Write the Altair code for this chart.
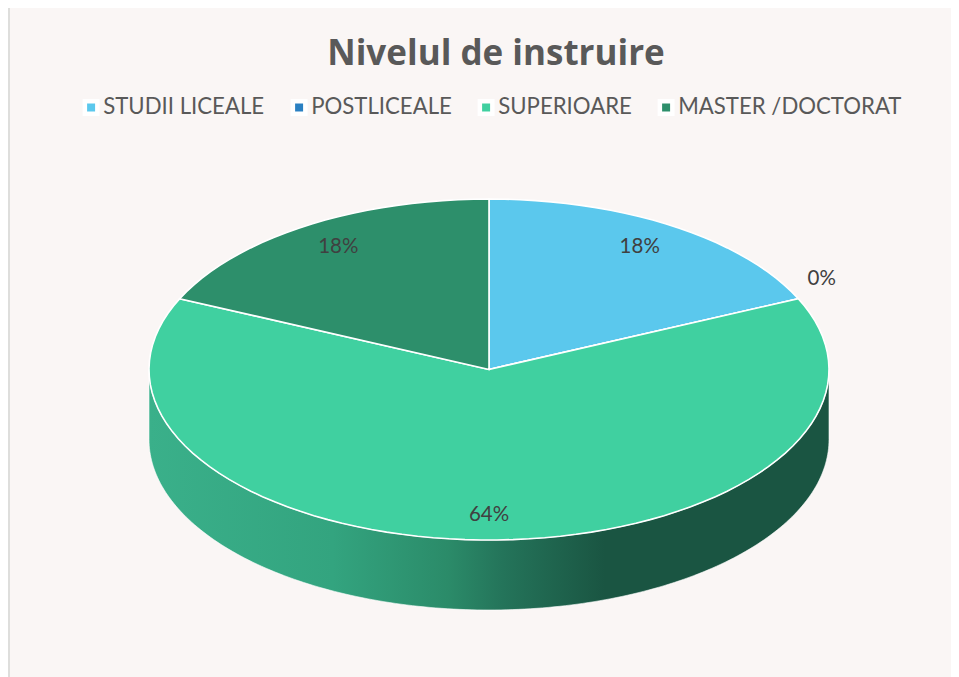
import numpy as np
import pandas as pd
import altair as alt

categories = ["STUDII LICEALE", "POSTLICEALE", "SUPERIOARE", "MASTER /DOCTORAT"]
shares = [2, 0, 7, 2]
labels = ["18%", "0%", "64%", "18%"]
colors = ["#5BC8ED", "#2A80C2", "#40D0A0", "#2D8F6B"]

W, H, TOP = 943, 601, 68
CX, CY, RX, RY, DEPTH = 481, 293.5, 340, 170.5, 70
x_dom = [-CX / RX, (W - CX) / RX]
y_dom = [-(H - CY) / RY, CY / RY]
wall_v = DEPTH / RY

rows, text_rows = [], []
cum = 0
for cat, s, lab in zip(categories, shares, labels):
    a0 = cum / sum(shares) * 2 * np.pi
    a1 = (cum + s) / sum(shares) * 2 * np.pi
    cum += s
    n = s * 12 + 2
    rows.append({"cat": cat, "pt": 0, "u": 0.0, "v": 0.0})
    for i, a in enumerate(np.linspace(a0, a1, n)):
        rows.append({"cat": cat, "pt": i + 1, "u": np.sin(a), "v": np.cos(a)})
    mid = (a0 + a1) / 2
    ru, rv = (0.82, 0.855) if s > 0 else (1.076, 1.28)
    text_rows.append({"u": ru * np.sin(mid), "v": rv * np.cos(mid), "t": lab})

slices = pd.DataFrame(rows)
texts = pd.DataFrame(text_rows)
theta = np.linspace(np.pi / 2, 3 * np.pi / 2, 181)
wall = pd.DataFrame({"u": np.sin(theta)[::-1], "v": np.cos(theta)[::-1]})
wall["v2"] = wall["v"] - wall_v

x_enc = alt.X("u:Q", scale=alt.Scale(domain=x_dom, nice=False, zero=False), axis=None)
y_enc = alt.Y("v:Q", scale=alt.Scale(domain=y_dom, nice=False, zero=False), axis=None)

gradient = alt.Gradient(
    gradient="linear", x1=0, x2=1, y1=0, y2=0,
    stops=[
        alt.GradientStop(color="#3AB08A", offset=0),
        alt.GradientStop(color="#33A47F", offset=0.27),
        alt.GradientStop(color="#2B8B69", offset=0.44),
        alt.GradientStop(color="#24745A", offset=0.52),
        alt.GradientStop(color="#1A5542", offset=0.67),
        alt.GradientStop(color="#1A5542", offset=1),
    ],
)

wall_layer = alt.Chart(wall).mark_area(color=gradient, stroke="#FFFFFF", strokeWidth=0.6).encode(
    x=x_enc, y=y_enc, y2=alt.Y2("v2:Q")
)

top_layer = alt.Chart(slices).mark_line(
    interpolate="linear-closed", stroke="#FFFFFF", strokeWidth=1.6, opacity=1
).encode(
    x=x_enc, y=y_enc, order=alt.Order("pt:Q"),
    fill=alt.Fill(
        "cat:N",
        scale=alt.Scale(domain=categories, range=colors),
        legend=alt.Legend(
            title=None, orient="none", legendX=72, legendY=20, direction="horizontal",
            columns=4, columnPadding=18, symbolType="square", symbolSize=156,
            symbolStrokeColor="#FFFFFF", symbolStrokeWidth=4.5, symbolOpacity=1,
            labelFont="Lato", labelFontSize=22.2, labelColor="#595959", labelOffset=1,
            labelLimit=400, padding=0,
        ),
    ),
)

text_layer = alt.Chart(texts).mark_text(
    font="Lato", fontSize=20.5, color="#404040"
).encode(x=x_enc, y=y_enc, text="t:N")

border = alt.Chart(pd.DataFrame({"a": [0]})).mark_rule(color="#DEDEDC", strokeWidth=2).encode(
    x=alt.value(1), y=alt.value(-TOP), y2=alt.value(H)
)

chart = alt.layer(wall_layer, top_layer, text_layer, border).properties(
    width=W,
    height=H,
    padding={"left": 0, "right": 0, "top": TOP, "bottom": 0},
    autosize=alt.AutoSizeParams(type="none"),
    background="#FAF6F5",
    title=alt.TitleParams(
        "Nivelul de instruire", font="Open Sans", fontSize=35, fontWeight="bold", color="#595959",
        anchor="middle", dx=16.5, offset=-65,
    ),
).configure_view(stroke=None)

chart.save("out.html", embed_options={"renderer": "svg", "actions": False})
